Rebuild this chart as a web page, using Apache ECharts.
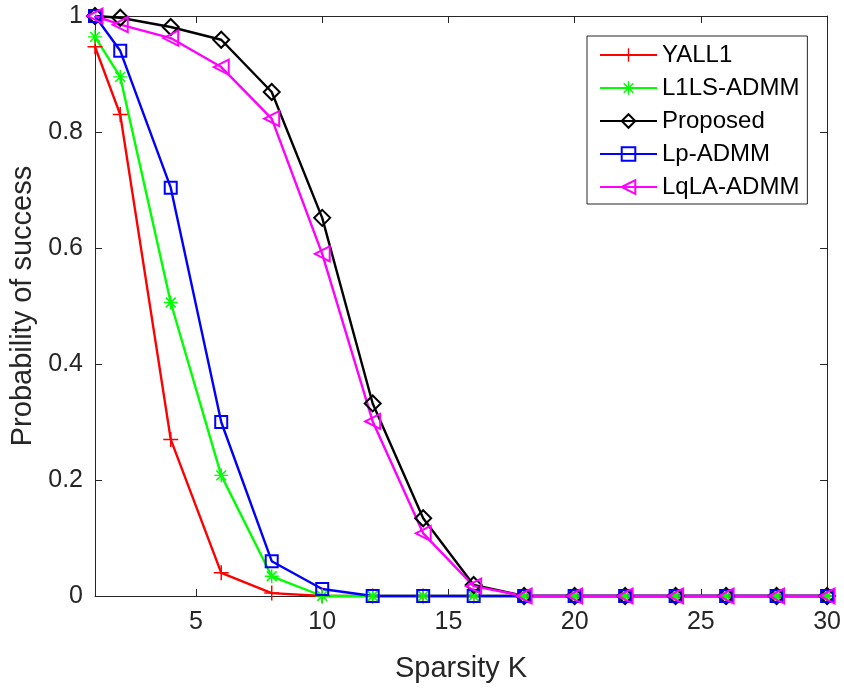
<!DOCTYPE html>
<html>
<head>
<meta charset="utf-8">
<script src="https://cdn.jsdelivr.net/npm/echarts@6/dist/echarts.min.js"></script>
<style>html,body{margin:0;padding:0;background:#fff}#c{width:844px;height:688px}</style>
</head>
<body>
<div id="c"></div>
<script>
const K = [1,2,4,6,8,10,12,14,16,18,20,22,24,26,28,30];
const yall1    = [0.947,0.83,0.27,0.04,0.005,0,0,0,0,0,0,0,0,0,0,0];
const l1ls     = [0.964,0.895,0.506,0.208,0.034,0,0,0,0,0,0,0,0,0,0,0];
const proposed = [1.0,0.997,0.981,0.959,0.869,0.652,0.332,0.134,0.019,0,0,0,0,0,0,0];
const lpadmm   = [1.0,0.94,0.704,0.30,0.06,0.012,0,0,0,0,0,0,0,0,0,0];
const lqla     = [1.0,0.985,0.962,0.912,0.823,0.59,0.301,0.108,0.017,0,0,0,0,0,0,0];
const xTicks = [5,10,15,20,25,30];
const names = ['YALL1','L1LS-ADMM','Proposed','Lp-ADMM','LqLA-ADMM'];

const PLUS = 'path://M0,4.5L10,4.5L10,5.5L0,5.5Z M4.5,0L5.5,0L5.5,10L4.5,10Z';
const STAR = 'path://M0,4.5L10,4.5L10,5.5L0,5.5Z M4.5,0L5.5,0L5.5,10L4.5,10Z M1.9,1.1L8.9,8.1L8.1,8.9L1.1,1.9Z M8.1,1.1L8.9,1.9L1.9,8.9L1.1,8.1Z';

const FONT = 'Liberation Sans, Arial, Helvetica, sans-serif';
const AX = '#262626';

function pairs(v){ return K.map((k,i)=>[k,v[i]]); }
function ser(name, data, color, symbol, size, filled, rotate){
  return {
    name, type:'line', data: pairs(data), clip:false,
    symbol, symbolSize:size, symbolRotate: rotate||0, showAllSymbol:true,
    lineStyle:{color, width:2.4},
    itemStyle: filled ? {color, borderWidth:0} : {color:'rgba(255,255,255,0)', borderColor:color, borderWidth:2},
    emphasis:{disabled:true}
  };
}

const chart = echarts.init(document.getElementById('c'), null, {renderer:'canvas'});
chart.setOption({
  animation:false,
  backgroundColor:'#fff',
  textStyle:{fontFamily:FONT},
  grid:{left:95, right:16, top:16, bottom:91, containLabel:false},
  legend:{
    data:names, orient:'vertical', left:587, top:36,
    padding:[7,8,5,12], itemGap:9, itemWidth:57, itemHeight:17,
    borderColor:AX, borderWidth:1, backgroundColor:'#fff',
    selectedMode:false,
    textStyle:{fontSize:24, lineHeight:24, color:'#000', fontFamily:FONT}
  },
  xAxis:[{
    type:'value', min:1, max:30,
    name:'Sparsity K', nameLocation:'middle', nameGap:58,
    nameTextStyle:{fontSize:29, color:AX, fontFamily:FONT},
    axisLine:{show:true, onZero:false, lineStyle:{color:AX, width:1}},
    axisTick:{show:true, inside:true, length:7, customValues:xTicks, lineStyle:{color:AX}},
    axisLabel:{show:true, customValues:xTicks, fontSize:25, color:AX, margin:14, fontFamily:FONT},
    splitLine:{show:false}
  },{
    type:'value', min:1, max:30, position:'top',
    axisLine:{show:true, onZero:false, lineStyle:{color:AX, width:1}},
    axisTick:{show:true, inside:true, length:7, customValues:xTicks, lineStyle:{color:AX}},
    axisLabel:{show:false}, splitLine:{show:false}
  }],
  yAxis:[{
    type:'value', min:0, max:1, interval:0.2,
    name:'Probability of success', nameLocation:'middle', nameGap:53, nameRotate:90,
    nameTextStyle:{fontSize:29, color:AX, fontFamily:FONT},
    axisLine:{show:true, onZero:false, lineStyle:{color:AX, width:1}},
    axisTick:{show:true, inside:true, length:7, lineStyle:{color:AX}},
    axisLabel:{fontSize:25, color:AX, margin:12, fontFamily:FONT},
    splitLine:{show:false}
  },{
    type:'value', min:0, max:1, interval:0.2, position:'right',
    axisLine:{show:true, onZero:false, lineStyle:{color:AX, width:1}},
    axisTick:{show:true, inside:true, length:7, lineStyle:{color:AX}},
    axisLabel:{show:false}, splitLine:{show:false}
  }],
  series:[
    ser(names[0], yall1, '#ff0000', PLUS, 15, true),
    ser(names[1], l1ls, '#00ff00', STAR, 14, true),
    ser(names[2], proposed, '#000000', 'diamond', 16, false),
    ser(names[3], lpadmm, '#0000ff', 'rect', 12, false),
    ser(names[4], lqla, '#ff00ff', 'triangle', 15, false, 90)
  ]
});
</script>
</body>
</html>
